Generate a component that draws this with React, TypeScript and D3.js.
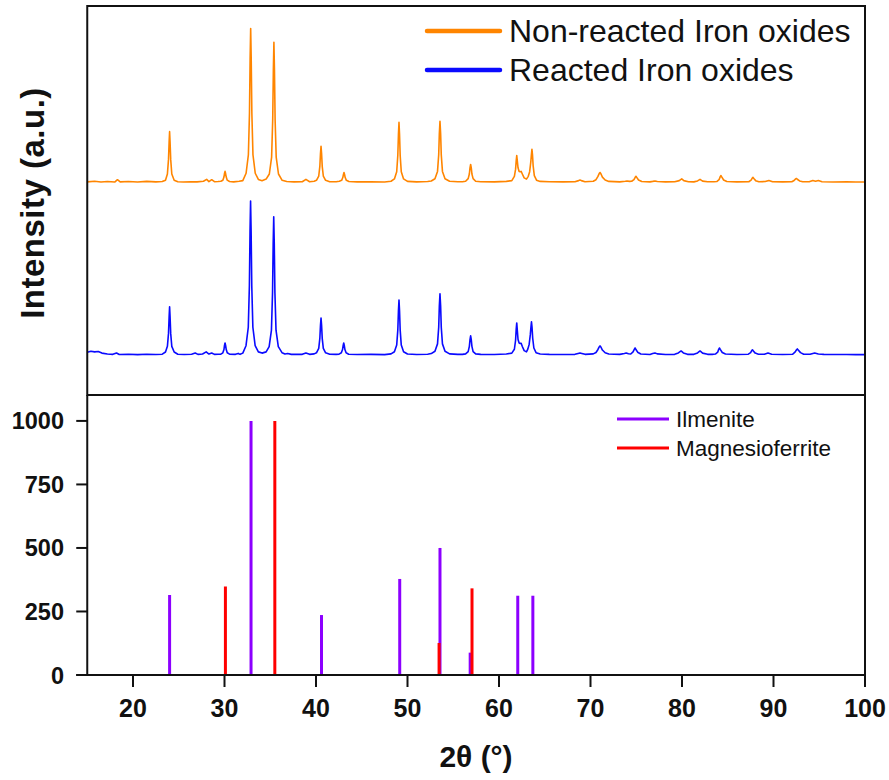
import React from "react";
import * as d3 from "d3";

// ---------- data ----------
const SERIES_LABELS = ["Non-reacted Iron oxides", "Reacted Iron oxides"];
const REF_LABELS = ["Ilmenite", "Magnesioferrite"];
const X_TICKS = [20, 30, 40, 50, 60, 70, 80, 90, 100];
const Y_TICKS = [0, 250, 500, 750, 1000];

// reference stick patterns (2θ, intensity)
const ILMENITE_2THETA = [24.0, 32.9, 40.6, 49.15, 53.55, 56.85, 62.05, 63.7];
const ILMENITE_INT = [315, 1000, 236, 378, 500, 88, 312, 312];
const MAGNESIO_2THETA = [30.1, 35.5, 53.45, 57.05];
const MAGNESIO_INT = [348, 1000, 126, 341];

// vertical stacking offset of the non-reacted pattern (a.u.)
const STACK_OFFSET = 1120;

// measured pattern vertices [2θ, intensity a.u.] – non-reacted
const NON_REACTED: [number, number][] = [
  [15, 4], [15.8, 8], [16.5, 3], [17.2, 6], [18.0, 3], [18.3, 18], [18.6, 4], [19.5, 6], [20.5, 3], [21.5, 7], [22.5, 4], [23.2, 6],
  [23.55, 15], [23.76, 55], [23.88, 150], [23.95, 265], [24.0, 330], [24.05, 265], [24.12, 150], [24.24, 55], [24.5, 15], [24.9, 5],
  [25.5, 3], [26.3, 5], [27.0, 4], [27.7, 8], [28.05, 20], [28.3, 6], [28.6, 18], [28.9, 5], [29.3, 6],
  [29.6, 8], [29.82, 15], [29.94, 35], [30.0, 58], [30.06, 72], [30.12, 58], [30.19, 35], [30.3, 15], [30.55, 6],
  [31.0, 4], [31.6, 8], [32.0, 12],
  [32.36, 60], [32.61, 180], [32.73, 450], [32.8, 800], [32.86, 1000], [32.92, 800], [32.99, 450], [33.11, 180], [33.36, 60], [33.7, 20],
  [34.1, 12], [34.55, 22],
  [34.9, 55], [35.15, 165], [35.27, 410], [35.34, 730], [35.4, 910], [35.46, 730], [35.53, 410], [35.65, 165], [35.9, 55], [36.3, 14],
  [36.8, 6], [37.6, 4], [38.5, 5], [38.9, 20], [39.3, 5], [39.8, 8],
  [40.05, 14], [40.3, 42], [40.42, 105], [40.49, 188], [40.55, 235], [40.61, 188], [40.68, 105], [40.8, 42], [41.05, 14], [41.5, 5],
  [42.2, 5], [42.55, 8], [42.8, 14], [42.93, 32], [43.0, 52], [43.06, 65], [43.12, 52], [43.19, 32], [43.32, 14], [43.6, 6],
  [44.5, 4], [46.0, 5], [47.5, 3], [48.2, 8],
  [48.57, 23], [48.82, 70], [48.94, 175], [49.01, 312], [49.07, 390], [49.13, 312], [49.2, 175], [49.32, 70], [49.57, 23], [50.0, 7],
  [51.0, 4], [52.2, 6], [52.6, 10],
  [53.0, 24], [53.28, 72], [53.41, 180], [53.48, 318], [53.55, 397], [53.62, 318], [53.69, 180], [53.82, 72], [54.1, 24], [54.6, 8],
  [55.5, 5], [56.0, 5],
  [56.35, 8], [56.63, 25], [56.76, 55], [56.83, 95], [56.9, 117], [56.97, 95], [57.04, 55], [57.17, 25], [57.45, 8], [58.0, 5],
  [59.5, 4], [60.8, 7],
  [61.4, 12], [61.68, 40], [61.81, 85], [61.88, 140], [61.94, 175], [62.0, 140], [62.08, 95], [62.2, 72], [62.32, 70], [62.42, 72],
  [62.55, 55], [62.75, 30], [63.0, 22], [63.2, 40], [63.35, 70], [63.47, 130], [63.54, 180], [63.6, 215], [63.66, 180], [63.73, 110],
  [63.86, 45], [64.1, 15], [64.5, 7],
  [65.5, 5], [67.0, 4], [68.3, 5], [68.7, 12], [68.85, 16], [69.0, 12], [69.4, 5],
  [70.3, 8], [70.6, 18], [70.8, 38], [70.95, 58], [71.04, 65], [71.15, 55], [71.3, 35], [71.6, 16], [72.0, 7],
  [73.2, 4], [73.8, 8], [74.0, 10], [74.25, 7],
  [74.5, 8], [74.75, 18], [74.9, 35], [74.97, 40], [75.05, 33], [75.25, 16], [75.6, 6],
  [76.5, 4], [76.8, 7], [77.05, 10], [77.3, 6], [78.2, 4], [79.2, 5], [79.7, 12], [79.97, 23], [80.2, 12], [80.7, 5],
  [81.3, 4], [81.7, 10], [81.97, 20], [82.25, 9], [82.8, 5], [83.5, 5],
  [83.8, 6], [84.05, 18], [84.18, 38], [84.26, 45], [84.34, 36], [84.55, 16], [84.9, 6],
  [86.0, 4], [87.3, 5], [87.55, 15], [87.68, 28], [87.76, 33], [87.85, 26], [88.05, 12], [88.4, 5],
  [89.1, 6], [89.5, 13], [89.9, 5], [91.0, 4],
  [92.0, 5], [92.25, 13], [92.42, 23], [92.5, 26], [92.6, 21], [92.85, 10], [93.2, 5],
  [93.9, 5], [94.3, 13], [94.6, 8], [94.9, 13], [95.3, 5], [96.5, 3], [98.0, 4], [99.0, 3], [100, 3],
];

// measured pattern vertices [2θ, intensity a.u.] – reacted
const REACTED: [number, number][] = [
  [15, 18], [15.4, 24], [15.8, 20], [16.2, 22], [16.6, 12], [17.2, 6], [17.8, 4], [18.2, 13], [18.5, 3], [19.5, 5], [20.5, 2], [21.5, 5], [22.5, 3], [23.2, 5],
  [23.55, 19], [23.76, 56], [23.88, 140], [23.95, 250], [24.0, 312], [24.05, 250], [24.12, 140], [24.24, 56], [24.5, 19], [24.9, 5],
  [25.6, 3], [26.4, 5], [26.8, 13], [27.1, 4], [27.6, 6], [28.0, 20], [28.3, 6], [28.6, 13], [28.9, 4], [29.3, 5],
  [29.6, 5], [29.82, 14], [29.94, 35], [30.0, 62], [30.06, 78], [30.12, 62], [30.19, 35], [30.3, 14], [30.55, 5],
  [31.2, 4], [31.5, 10], [31.7, 4], [32.0, 12],
  [32.35, 60], [32.6, 180], [32.72, 450], [32.79, 800], [32.85, 1000], [32.91, 800], [32.98, 450], [33.1, 180], [33.35, 60], [33.7, 20],
  [34.1, 12], [34.55, 20],
  [34.88, 54], [35.13, 161], [35.25, 404], [35.32, 718], [35.38, 897], [35.44, 718], [35.51, 404], [35.63, 161], [35.88, 54], [36.3, 14],
  [36.6, 6], [36.9, 9], [37.3, 4], [38.5, 4], [38.9, 13], [39.3, 4], [39.8, 7],
  [40.05, 14], [40.3, 43], [40.42, 108], [40.49, 192], [40.55, 240], [40.61, 192], [40.68, 108], [40.8, 43], [41.05, 14], [41.5, 5],
  [42.2, 4], [42.52, 5], [42.77, 14], [42.9, 35], [42.97, 62], [43.03, 78], [43.09, 62], [43.16, 35], [43.29, 14], [43.57, 5],
  [44.5, 3], [46.0, 4], [47.5, 2], [48.2, 7],
  [48.57, 21], [48.82, 64], [48.94, 161], [49.01, 286], [49.07, 357], [49.13, 286], [49.2, 161], [49.32, 64], [49.57, 21], [50.0, 6],
  [51.0, 3], [52.2, 5], [52.6, 9],
  [53.0, 24], [53.28, 72], [53.41, 180], [53.48, 318], [53.55, 397], [53.62, 318], [53.69, 180], [53.82, 72], [54.1, 24], [54.6, 7],
  [55.5, 4], [56.0, 4],
  [56.35, 7], [56.63, 22], [56.76, 56], [56.83, 99], [56.9, 124], [56.97, 99], [57.04, 56], [57.17, 22], [57.45, 7], [58.0, 4],
  [59.5, 3], [60.8, 6],
  [61.4, 12], [61.68, 37], [61.81, 94], [61.88, 166], [61.94, 208], [62.0, 160], [62.08, 100], [62.2, 78], [62.32, 74], [62.42, 76],
  [62.55, 55], [62.75, 28], [63.0, 20], [63.15, 38], [63.3, 70], [63.42, 130], [63.49, 180], [63.55, 215], [63.61, 180], [63.68, 110],
  [63.81, 45], [64.05, 15], [64.5, 6],
  [65.5, 4], [67.0, 3], [68.3, 4], [68.65, 10], [68.85, 13], [69.05, 10], [69.4, 4],
  [70.3, 7], [70.6, 16], [70.8, 34], [70.95, 52], [71.04, 59], [71.15, 50], [71.3, 32], [71.6, 14], [72.0, 6],
  [73.2, 4], [73.7, 10], [73.9, 13], [74.15, 8],
  [74.4, 6], [74.65, 20], [74.8, 38], [74.87, 45], [74.95, 37], [75.15, 18], [75.5, 6],
  [76.5, 3], [76.8, 9], [77.05, 13], [77.3, 7], [78.2, 3], [79.2, 4], [79.6, 13], [79.9, 26], [80.15, 13], [80.6, 4],
  [81.3, 4], [81.7, 13], [81.97, 26], [82.25, 12], [82.8, 4], [83.3, 4],
  [83.65, 6], [83.9, 18], [84.02, 38], [84.1, 45], [84.18, 36], [84.4, 16], [84.75, 6],
  [86.0, 3], [87.25, 5], [87.5, 15], [87.62, 28], [87.7, 33], [87.8, 26], [88.0, 12], [88.35, 5],
  [89.0, 5], [89.4, 13], [89.8, 5], [91.0, 3],
  [92.1, 5], [92.35, 18], [92.52, 34], [92.6, 39], [92.7, 32], [92.95, 15], [93.3, 5],
  [94.0, 5], [94.5, 13], [94.9, 6], [95.5, 4], [96.5, 3], [98.0, 3], [99.0, 2], [100, 2],
];

// ---------- component ----------
const FONT = "'Liberation Sans', Arial, Helvetica, sans-serif";
const ORANGE = "#FF8500";
const BLUE = "#0A0AFF";
const PURPLE = "#8C00FF";
const RED = "#FF0000";

export default function App() {
  const W = 889;
  const H = 780;
  const L = 87.25;
  const R = 865;
  const T = 6;
  const MID = 395;
  const B = 675;

  const x = d3.scaleLinear().domain([15, 100]).range([L, R]);
  const yTop = d3.scaleLinear().domain([-260, 2266]).range([MID, T]);
  const yBot = d3.scaleLinear().domain([0, 1102]).range([B, MID]);

  const mkLine = (off: number) =>
    d3
      .line<[number, number]>()
      .x((d) => x(d[0]))
      .y((d) => yTop(d[1] + off));

  const orangePath = mkLine(STACK_OFFSET)(NON_REACTED) || "";
  const bluePath = mkLine(0)(REACTED) || "";

  return (
    <svg
      width={W}
      height={H}
      viewBox={`0 0 ${W} ${H}`}
      style={{ position: "absolute", left: 0, top: 0, background: "#fff" }}
    >
      <defs>
        <clipPath id="topClip">
          <rect x={L} y={T} width={R - L} height={MID - T} />
        </clipPath>
        <clipPath id="botClip">
          <rect x={L} y={MID} width={R - L} height={B - MID} />
        </clipPath>
      </defs>
      <rect x={0} y={0} width={W} height={H} fill="#fff" />

      {/* XRD patterns */}
      <g clipPath="url(#topClip)">
        <path d={orangePath} fill="none" stroke={ORANGE} strokeWidth={1.6} strokeLinejoin="round" />
        <path d={bluePath} fill="none" stroke={BLUE} strokeWidth={1.6} strokeLinejoin="round" />
      </g>

      {/* reference sticks */}
      <g clipPath="url(#botClip)">
        {ILMENITE_2THETA.map((t, i) => (
          <line key={"il" + i} x1={x(t)} x2={x(t)} y1={yBot(0)} y2={yBot(ILMENITE_INT[i])} stroke={PURPLE} strokeWidth={3} />
        ))}
        {MAGNESIO_2THETA.map((t, i) => (
          <line key={"mg" + i} x1={x(t)} x2={x(t)} y1={yBot(0)} y2={yBot(MAGNESIO_INT[i])} stroke={RED} strokeWidth={3} />
        ))}
      </g>

      {/* frames */}
      <rect x={L} y={T} width={R - L} height={MID - T} fill="none" stroke="#111" strokeWidth={2} />
      <line x1={L} x2={L} y1={MID} y2={B} stroke="#111" strokeWidth={2} />
      <line x1={R} x2={R} y1={MID} y2={B} stroke="#111" strokeWidth={2} />
      <line x1={L - 11} x2={R} y1={B} y2={B} stroke="#111" strokeWidth={2} />

      {/* x ticks */}
      {X_TICKS.map((t) => (
        <g key={"xt" + t}>
          <line x1={x(t)} x2={x(t)} y1={B} y2={B + 12} stroke="#111" strokeWidth={2} />
          <text x={x(t)} y={717} textAnchor="middle" fontFamily={FONT} fontWeight="bold" fontSize={25} fill="#111">
            {t}
          </text>
        </g>
      ))}

      {/* y ticks bottom panel */}
      {Y_TICKS.map((t) => (
        <g key={"yt" + t}>
          <line x1={L - 11} x2={L} y1={yBot(t)} y2={yBot(t)} stroke="#111" strokeWidth={2} />
          <text x={64} y={yBot(t) + 8.5} textAnchor="end" fontFamily={FONT} fontWeight="bold" fontSize={23.5} fill="#111">
            {t}
          </text>
        </g>
      ))}

      {/* axis titles */}
      <text x={476} y={767} textAnchor="middle" fontFamily={FONT} fontWeight="bold" fontSize={30} fill="#111">
        2θ (°)
      </text>
      <text
        transform={`translate(44, 203) rotate(-90)`}
        textAnchor="middle"
        fontFamily={FONT}
        fontWeight="bold"
        fontSize={33}
        letterSpacing={0.5}
        fill="#111"
      >
        Intensity (a.u.)
      </text>

      {/* top legend */}
      {SERIES_LABELS.map((s, i) => (
        <g key={"lg" + i}>
          <line x1={427} x2={500} y1={31 + i * 39} y2={31 + i * 39} stroke={i === 0 ? ORANGE : BLUE} strokeWidth={4.5} strokeLinecap="round" />
          <text x={509} y={42 + i * 39} fontFamily={FONT} fontSize={32} fill="#111">
            {s}
          </text>
        </g>
      ))}

      {/* bottom legend */}
      {REF_LABELS.map((s, i) => (
        <g key={"rl" + i}>
          <line x1={617} x2={669} y1={419 + i * 29} y2={419 + i * 29} stroke={i === 0 ? PURPLE : RED} strokeWidth={3} />
          <text x={676} y={427 + i * 29} fontFamily={FONT} fontSize={22.5} fill="#111">
            {s}
          </text>
        </g>
      ))}
    </svg>
  );
}
